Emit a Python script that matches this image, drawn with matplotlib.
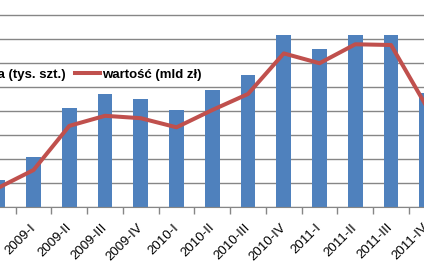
import numpy as np
import matplotlib.pyplot as plt

# quarters (the chart is a crop, the first and last ones are only partly visible)
quarters = ["2008-IV", "2009-I", "2009-II", "2009-III", "2009-IV",
            "2010-I", "2010-II", "2010-III", "2010-IV",
            "2011-I", "2011-II", "2011-III", "2011-IV"]
liczba = [11.3, 20.8, 41.4, 47.1, 45.1, 40.4, 48.8, 55.0, 71.8, 65.8, 71.8, 71.8, 47.5]
wartosc = [7.9, 15.4, 33.8, 38.0, 37.0, 33.2, 40.4, 47.1, 64.0, 59.9, 67.8, 67.5, 41.7]

blue = "#4F81BD"
red = "#C0504D"
grid = "#868686"

plt.rcParams["font.family"] = ["Liberation Sans", "DejaVu Sans"]

fig = plt.figure(figsize=(4.24, 2.67), dpi=100)
# axes reach past the figure edges, so the picture is a crop of a wider chart
ax = fig.add_axes([-20.1 / 424, 60 / 267, 464.75 / 424, 216 / 267])

x = np.arange(len(quarters))
bars = ax.bar(x, liczba, width=0.41, color=blue, zorder=2)
line, = ax.plot(x, wartosc, color=red, lw=2.9, zorder=3)

ax.set_xlim(-0.5, len(quarters) - 0.5)
ax.set_ylim(0, 90)
ax.set_yticks(np.arange(0, 91, 10))
ax.yaxis.grid(True, color=grid, lw=1.0)
ax.set_axisbelow(True)
ax.tick_params(axis="y", length=0, labelleft=False)

ax.set_xticks(x)
ax.set_xticklabels(quarters, rotation=45, ha="right", va="center",
                   rotation_mode="anchor", fontsize=9.5)
ax.set_xticks(x[:-1] + 0.5, minor=True)
ax.tick_params(axis="x", which="major", length=0, pad=13.5)
ax.tick_params(axis="x", which="minor", length=5, color=grid, width=1)

for s in ["top", "left", "right"]:
    ax.spines[s].set_visible(False)
ax.spines["bottom"].set_color(grid)

ax.legend([bars, line], ["liczba (tys. szt.)", "wartość (mld zł)"],
          loc="center right", bbox_to_anchor=(208 / 424, 1 - 75 / 267),
          bbox_transform=fig.transFigure, ncol=2, frameon=False,
          prop={"weight": "bold", "size": 9.5}, borderpad=0,
          handlelength=1.9, handletextpad=0.15, columnspacing=0.7)

fig.savefig("out.png", dpi=100)
